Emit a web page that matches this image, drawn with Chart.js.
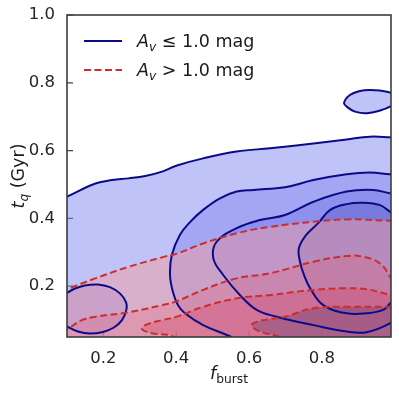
<!DOCTYPE html>
<html>
<head>
<meta charset="utf-8">
<script src="https://cdn.jsdelivr.net/npm/chart.js@4.4.1/dist/chart.umd.min.js"></script>
<style>
  html, body { margin: 0; padding: 0; background: #fff; }
  #wrap { width: 399px; height: 393px; }
</style>
</head>
<body>
<div id="wrap"><canvas id="kdeChart" width="399" height="393"></canvas></div>
<script>
// Tick labels
const xTicks = [0.2, 0.4, 0.6, 0.8];
const yTicks = [0.2, 0.4, 0.6, 0.8, 1.0];

// KDE contours, points are [f_burst, t_q]
// (points past the axes close each shape outside the visible box)

// A_v <= 1.0 mag sample
const blueLevel1 = [[0.02,0.43],[0.06,0.445],[0.100,0.464],[0.178,0.503],[0.224,0.513],[0.269,0.518],[0.315,0.525],[0.361,0.538],[0.402,0.556],[0.474,0.577],[0.566,0.597],[0.658,0.607],[0.777,0.621],[0.868,0.633],[0.932,0.641],[0.987,0.639],[1.03,0.636],[1.07,0.63],[1.1,-0.2],[-0.1,-0.2],[0.02,0.43]];
const blueLevel1Island = [[1.015,0.751],[0.990,0.731],[0.960,0.718],[0.924,0.710],[0.891,0.715],[0.869,0.729],[0.861,0.741],[0.877,0.764],[0.905,0.776],[0.932,0.779],[0.960,0.777],[0.990,0.770],[1.015,0.751]];
const blueLevel2 = [[1.07,0.525],[1.028,0.528],[0.987,0.530],[0.932,0.535],[0.868,0.530],[0.777,0.513],[0.699,0.492],[0.612,0.484],[0.566,0.479],[0.520,0.459],[0.474,0.425],[0.438,0.389],[0.410,0.351],[0.388,0.292],[0.383,0.233],[0.391,0.183],[0.405,0.144],[0.424,0.120],[0.474,0.085],[0.539,0.056],[0.603,0.026],[0.685,0.006],[1.1,-0.2],[1.12,0.5],[1.07,0.525]];
const blueLevel2Island = [[0.067,0.130],[0.081,0.165],[0.100,0.180],[0.122,0.193],[0.149,0.202],[0.185,0.205],[0.218,0.197],[0.246,0.178],[0.262,0.153],[0.263,0.130],[0.251,0.100],[0.229,0.078],[0.199,0.065],[0.163,0.060],[0.130,0.066],[0.100,0.081],[0.081,0.094],[0.067,0.130]];
const blueLevel3 = [[1.028,0.469],[0.987,0.474],[0.941,0.484],[0.868,0.479],[0.777,0.449],[0.699,0.410],[0.630,0.395],[0.566,0.371],[0.511,0.331],[0.502,0.282],[0.529,0.233],[0.575,0.174],[0.621,0.130],[0.676,0.110],[0.777,0.085],[0.868,0.066],[0.923,0.064],[0.987,0.090],[1.028,0.124],[1.06,0.3],[1.028,0.469]];
const blueLevel4 = [[1.028,0.395],[0.987,0.420],[0.960,0.439],[0.914,0.446],[0.868,0.442],[0.823,0.425],[0.790,0.386],[0.757,0.351],[0.737,0.312],[0.740,0.272],[0.751,0.233],[0.768,0.194],[0.804,0.144],[0.868,0.120],[0.923,0.120],[0.969,0.130],[0.987,0.149],[1.015,0.183],[1.04,0.3],[1.028,0.395]];

// A_v > 1.0 mag sample
const redLevel1 = [[-0.1,-0.2],[0.0,0.15],[0.053,0.171],[0.100,0.191],[0.178,0.223],[0.269,0.257],[0.361,0.285],[0.402,0.296],[0.474,0.326],[0.566,0.356],[0.658,0.375],[0.777,0.390],[0.868,0.397],[0.987,0.393],[1.042,0.391],[1.1,-0.2],[-0.1,-0.2]];
const redLevel2 = [[0.0,-0.2],[0.03,0.04],[0.075,0.059],[0.105,0.076],[0.141,0.100],[0.178,0.110],[0.269,0.123],[0.361,0.144],[0.402,0.156],[0.474,0.189],[0.566,0.223],[0.658,0.238],[0.777,0.272],[0.868,0.289],[0.914,0.287],[0.960,0.267],[0.987,0.228],[1.007,0.189],[1.05,0.1],[1.05,-0.2],[0.0,-0.2]];
const redLevel3 = [[0.45,-0.2],[0.41,0.026],[0.388,0.053],[0.333,0.061],[0.306,0.073],[0.315,0.085],[0.361,0.100],[0.402,0.110],[0.474,0.139],[0.566,0.164],[0.658,0.174],[0.777,0.189],[0.868,0.194],[0.923,0.191],[0.987,0.174],[1.028,0.159],[1.08,-0.2],[0.45,-0.2]];
const redLevel4 = [[0.75,-0.2],[0.72,0.03],[0.676,0.053],[0.630,0.066],[0.607,0.085],[0.625,0.096],[0.658,0.103],[0.699,0.110],[0.777,0.135],[0.868,0.139],[0.987,0.139],[1.042,0.138],[1.08,-0.2],[0.75,-0.2]];

const FONT = '"DejaVu Sans", "Liberation Sans", sans-serif';
const BLUE_LINE = '#0b0b88';
const RED_LINE = '#c92f2f';

const blueFills = [
  [blueLevel1, 'rgba(130,135,240,0.5)'],
  [blueLevel1Island, 'rgba(130,135,240,0.5)'],
  [blueLevel2, 'rgba(98,98,236,0.3)'],
  [blueLevel2Island, 'rgba(98,98,236,0.3)'],
  [blueLevel3, 'rgba(90,96,224,0.3)'],
  [blueLevel4, 'rgba(69,72,175,0.3)']
];
const redFills = [
  [redLevel1, 'rgba(244,157,161,0.5)'],
  [redLevel2, 'rgba(231,89,111,0.28)'],
  [redLevel3, 'rgba(215,60,90,0.3)'],
  [redLevel4, 'rgba(90,60,110,0.35)']
];

const datasets = [];
let order = 100;
// filled bands first (higher order = drawn underneath)
blueFills.concat(redFills).forEach(([pts, color]) => {
  datasets.push({
    data: pts, showLine: true, fill: 'shape', backgroundColor: color,
    borderWidth: 0, pointRadius: 0, tension: 0.4, order: order--
  });
});
// contour lines on top
blueFills.forEach(([pts]) => {
  datasets.push({
    data: pts, showLine: true, fill: false, borderColor: BLUE_LINE,
    borderWidth: 2, pointRadius: 0, tension: 0.4, order: 2
  });
});
redFills.forEach(([pts]) => {
  datasets.push({
    data: pts, showLine: true, fill: false, borderColor: RED_LINE,
    borderWidth: 2, borderDash: [7, 3.5], pointRadius: 0, tension: 0.4, order: 1
  });
});

// draw text runs with italic / subscript pieces
function drawRuns(ctx, x, y, runs, size) {
  runs.forEach(r => {
    const s = r.sub ? size * 0.7 : size;
    ctx.font = (r.italic ? 'italic ' : '') + s + 'px ' + FONT;
    ctx.fillText(r.text, x, y + (r.sub ? size * 0.24 : 0));
    x += ctx.measureText(r.text).width;
  });
  return x;
}
function runsWidth(ctx, runs, size) {
  let w = 0;
  runs.forEach(r => {
    const s = r.sub ? size * 0.7 : size;
    ctx.font = (r.italic ? 'italic ' : '') + s + 'px ' + FONT;
    w += ctx.measureText(r.text).width;
  });
  return w;
}

const decorPlugin = {
  id: 'decor',
  beforeDatasetsDraw(chart) {
    const {ctx, chartArea: a, scales: {x, y}} = chart;
    ctx.save();
    ctx.strokeStyle = '#444';
    ctx.lineWidth = 1.2;
    ctx.beginPath();
    xTicks.forEach(v => {
      const px = x.getPixelForValue(v);
      ctx.moveTo(px, a.bottom); ctx.lineTo(px, a.bottom - 6);
    });
    yTicks.forEach(v => {
      const py = y.getPixelForValue(v);
      ctx.moveTo(a.left, py); ctx.lineTo(a.left + 6, py);
    });
    ctx.stroke();
    ctx.restore();
  },
  afterDraw(chart) {
    const {ctx, chartArea: a} = chart;
    ctx.save();
    // frame
    ctx.strokeStyle = '#3c3c3c';
    ctx.lineWidth = 1.6;
    ctx.strokeRect(a.left, a.top, a.right - a.left, a.bottom - a.top);

    ctx.fillStyle = '#1a1a1a';
    ctx.textBaseline = 'alphabetic';
    ctx.textAlign = 'left';

    // x title
    const xRuns = [{text: 'f', italic: true}, {text: 'burst', sub: true}];
    const xw = runsWidth(ctx, xRuns, 17.5);
    drawRuns(ctx, (a.left + a.right) / 2 - xw / 2, 379, xRuns, 17.5);

    // y title
    const yRuns = [{text: 't', italic: true}, {text: 'q', italic: true, sub: true}, {text: ' (Gyr)'}];
    const yw = runsWidth(ctx, yRuns, 17.5);
    ctx.save();
    ctx.translate(24, (a.top + a.bottom) / 2);
    ctx.rotate(-Math.PI / 2);
    drawRuns(ctx, -yw / 2, 0, yRuns, 17.5);
    ctx.restore();

    // legend
    const items = [
      {color: BLUE_LINE, dash: [], runs: [{text: 'A', italic: true}, {text: 'v', italic: true, sub: true}, {text: ' \u2264 1.0 mag'}]},
      {color: RED_LINE, dash: [7, 3.5], runs: [{text: 'A', italic: true}, {text: 'v', italic: true, sub: true}, {text: ' > 1.0 mag'}]}
    ];
    items.forEach((it, i) => {
      const ly = 41 + i * 29;
      ctx.save();
      ctx.strokeStyle = it.color;
      ctx.lineWidth = 2;
      ctx.setLineDash(it.dash);
      ctx.beginPath();
      ctx.moveTo(84, ly); ctx.lineTo(122, ly);
      ctx.stroke();
      ctx.restore();
      drawRuns(ctx, 137, ly + 6, it.runs, 17.5);
    });
    ctx.restore();
  }
};

new Chart(document.getElementById('kdeChart'), {
  type: 'scatter',
  data: { datasets },
  options: {
    responsive: false,
    animation: false,
    layout: { padding: { top: 15, right: 8, left: 0, bottom: 0 } },
    elements: { line: { capBezierPoints: false } },
    plugins: { legend: { display: false }, tooltip: { enabled: false } },
    scales: {
      x: {
        type: 'linear', min: 0.1, max: 0.99,
        grid: { display: false }, border: { display: false },
        ticks: { font: { family: FONT, size: 16.5 }, color: '#262626', padding: 4, autoSkip: false, maxRotation: 0,
                 callback: v => v.toFixed(1) },
        afterBuildTicks: s => { s.ticks = xTicks.map(v => ({ value: v })); },
        afterFit: s => { s.height = 56; }
      },
      y: {
        type: 'linear', min: 0.05, max: 1.0,
        grid: { display: false }, border: { display: false },
        ticks: { font: { family: FONT, size: 16.5 }, color: '#262626', padding: 4, autoSkip: false,
                 callback: v => v.toFixed(1) },
        afterBuildTicks: s => { s.ticks = yTicks.map(v => ({ value: v })); },
        afterFit: s => { s.width = 67; }
      }
    }
  },
  plugins: [decorPlugin]
});
</script>
</body>
</html>
